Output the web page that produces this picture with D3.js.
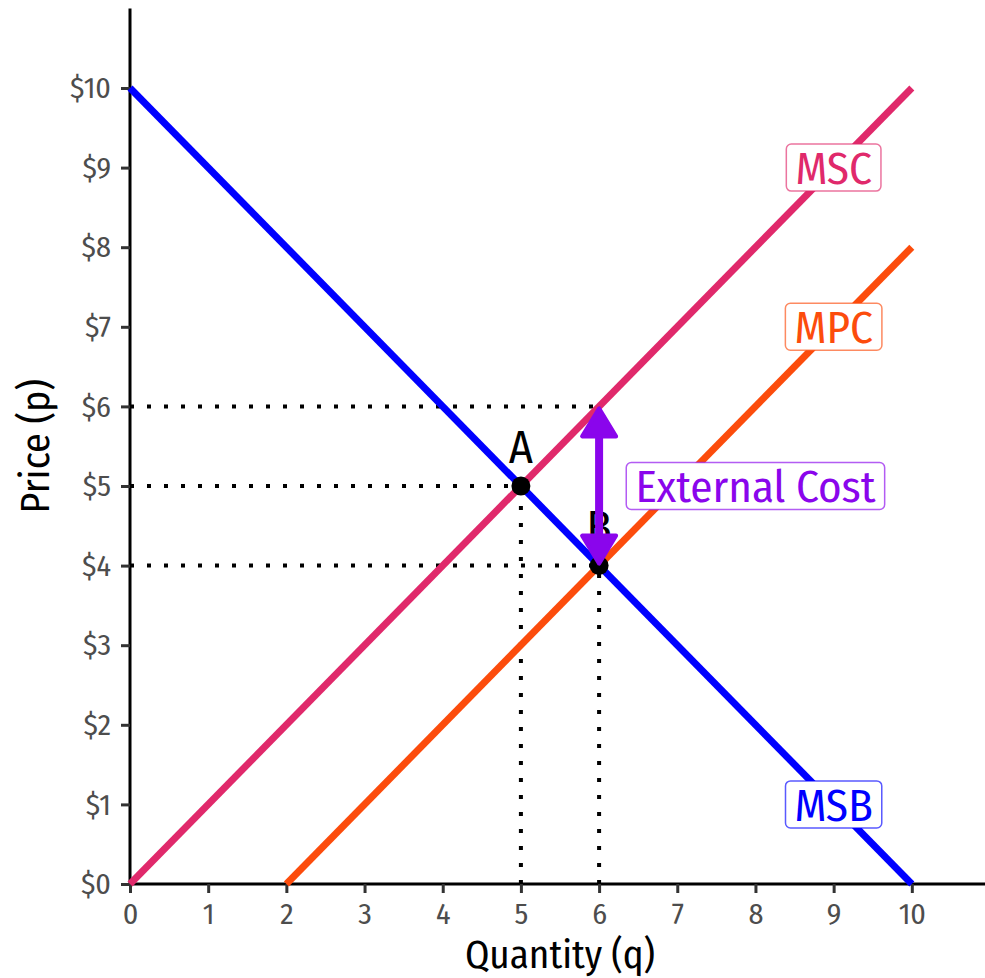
<!DOCTYPE html>
<html>
<head>
<meta charset="utf-8">
<script src="https://cdn.jsdelivr.net/npm/d3@7"></script>
<style>
  body { margin: 0; background: #fff; }
  svg { display: block; font-family: "Fira Sans Condensed", "Roboto Condensed", "DejaVu Sans Condensed", "Liberation Sans Narrow", "Noto Sans", sans-serif; }
</style>
</head>
<body>
<svg id="chart" width="985" height="978"></svg>
<script>
// curve endpoints (quantity, price)
let msbQ = [0, 10], msbP = [10, 0];
let mscQ = [0, 10], mscP = [0, 10];
let mpcQ = [2, 10], mpcP = [0, 8];

let xTicks = [0, 1, 2, 3, 4, 5, 6, 7, 8, 9, 10];
let yTicks = [0, 1, 2, 3, 4, 5, 6, 7, 8, 9, 10];

let pointNames = ["A", "B"];
let pointQ = [5, 6];
let pointP = [5, 4];

let curveNames = ["MSC", "MPC", "MSB"];
let labelQ = [9, 9, 9];
let labelP = [9, 7, 1];

// external cost arrow runs from MPC to MSC at q = 6
let extQ = 6, extFrom = 4, extTo = 6;
let extLabel = "External Cost", extLabelQ = 8, extLabelP = 5;

// dotted guides: [q1, p1, q2, p2]
let guides = [[0, 6, 6, 6], [0, 5, 5, 5], [0, 4, 6, 4], [5, 0, 5, 5], [6, 0, 6, 4]];

let colors = {MSB: '#0000ff', MSC: '#e0296b', MPC: '#fc4c0c', ext: '#8a05ec'};

let svg = d3.select('#chart');
let x = d3.scaleLinear().domain([0, 11]).range([130, 990]);
let y = d3.scaleLinear().domain([0, 11]).range([884, 8.4]);

// axes
let xAxis = svg.append('g')
    .attr('transform', 'translate(0,' + y(0) + ')')
    .call(d3.axisBottom(x).tickValues(xTicks).tickSize(9).tickPadding(10).tickFormat(d3.format('d')));
let yAxis = svg.append('g')
    .attr('transform', 'translate(' + x(0) + ',0)')
    .call(d3.axisLeft(y).tickValues(yTicks).tickSize(9).tickPadding(10).tickFormat((d) => '$' + d));

[xAxis, yAxis].forEach(function (a) {
    a.attr('font-family', null).attr('font-size', null);
    a.select('.domain').attr('stroke', '#000').attr('stroke-width', 3);
    a.selectAll('.tick line').attr('stroke', '#333').attr('stroke-width', 3);
    a.selectAll('.tick text').attr('fill', '#4d4d4d').style('font-size', '30px');
});
xAxis.select('.domain').attr('d', 'M' + x(0) + ',0H' + x(11));
yAxis.select('.domain').attr('d', 'M0,' + y(0) + 'V' + y(11));

svg.append('text')
    .attr('x', x(5.5)).attr('y', 968)
    .attr('text-anchor', 'middle')
    .style('font-size', '39px')
    .text('Quantity (q)');
svg.append('text')
    .attr('transform', 'translate(49,' + y(5.5) + ') rotate(-90)')
    .attr('text-anchor', 'middle')
    .style('font-size', '40px')
    .text('Price (p)');

// dotted guides
svg.append('g').selectAll('line')
    .data(guides)
    .enter().append('line')
    .attr('x1', (d) => x(d[0])).attr('y1', (d) => y(d[1]))
    .attr('x2', (d) => x(d[2])).attr('y2', (d) => y(d[3]))
    .attr('stroke', '#000')
    .attr('stroke-width', 4)
    .attr('stroke-dasharray', '4,13');

// curves
let line = d3.line().x((d) => x(d[0])).y((d) => y(d[1]));
let curves = [
    {name: 'MSC', pts: d3.zip(mscQ, mscP)},
    {name: 'MPC', pts: d3.zip(mpcQ, mpcP)},
    {name: 'MSB', pts: d3.zip(msbQ, msbP)}
];
svg.append('g').selectAll('path')
    .data(curves)
    .enter().append('path')
    .attr('d', (d) => line(d.pts))
    .attr('fill', 'none')
    .attr('stroke', (d) => colors[d.name])
    .attr('stroke-width', 7);

// points
let pts = d3.zip(pointNames, pointQ, pointP);
svg.append('g').selectAll('circle')
    .data(pts)
    .enter().append('circle')
    .attr('cx', (d) => x(d[1]))
    .attr('cy', (d) => y(d[2]))
    .attr('r', 9.5)
    .attr('fill', '#000');
svg.append('g').selectAll('text')
    .data(pts)
    .enter().append('text')
    .attr('x', (d) => x(d[1]))
    .attr('y', (d) => y(d[2]) - 23)
    .attr('text-anchor', 'middle')
    .style('font-size', '46px')
    .text((d) => d[0]);

// boxed labels
function boxLabel(txt, q, p, col, size) {
    let g = svg.append('g').attr('transform', 'translate(' + x(q) + ',' + y(p) + ')');
    let rect = g.append('rect');
    let t = g.append('text')
        .attr('text-anchor', 'middle')
        .attr('dy', '0.36em')
        .attr('fill', col)
        .style('font-size', size + 'px')
        .text(txt);
    let bb = t.node().getBBox();
    let padX = 9, h = 47;
    rect.attr('x', -bb.width / 2 - padX)
        .attr('y', -h / 2)
        .attr('width', bb.width + padX * 2)
        .attr('height', h)
        .attr('rx', 5)
        .attr('fill', '#fff')
        .attr('stroke', col)
        .attr('stroke-opacity', 0.65)
        .attr('stroke-width', 1.5);
}
d3.zip(curveNames, labelQ, labelP).forEach(function (d) {
    boxLabel(d[0], d[1], d[2], colors[d[0]], 45);
});

// external cost arrow
let head = 30, headW = 19;
let ax = x(extQ), ay1 = y(extFrom), ay2 = y(extTo);
let arrow = svg.append('g').attr('fill', colors.ext).attr('stroke', colors.ext);
arrow.append('line')
    .attr('x1', ax).attr('x2', ax)
    .attr('y1', ay1 - head + 2).attr('y2', ay2 + head - 2)
    .attr('stroke-width', 8);
arrow.append('path')
    .attr('stroke-linejoin', 'round').attr('stroke-width', 4)
    .attr('d', 'M' + ax + ',' + (ay2 + 2) + 'L' + (ax - headW + 2) + ',' + (ay2 + head) + 'L' + (ax + headW - 2) + ',' + (ay2 + head) + 'Z');
arrow.append('path')
    .attr('stroke-linejoin', 'round').attr('stroke-width', 4)
    .attr('d', 'M' + ax + ',' + (ay1 - 2) + 'L' + (ax - headW + 2) + ',' + (ay1 - head) + 'L' + (ax + headW - 2) + ',' + (ay1 - head) + 'Z');

boxLabel(extLabel, extLabelQ, extLabelP, colors.ext, 45);
</script>
</body>
</html>
